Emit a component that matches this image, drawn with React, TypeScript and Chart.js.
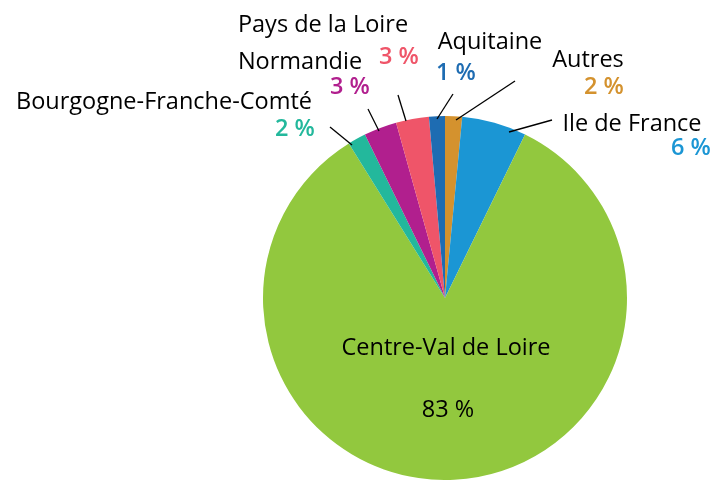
import React, { useEffect, useRef } from "react";
import { Chart, registerables } from "chart.js";

Chart.register(...registerables);

const regions = [
  "Autres",
  "Ile de France",
  "Centre-Val de Loire",
  "Bourgogne-Franche-Comté",
  "Normandie",
  "Pays de la Loire",
  "Aquitaine",
];
const shares = [1.5, 5.7, 83.3, 1.6, 2.9, 2.9, 1.4];
const shownPercents = [2, 6, 83, 2, 3, 3, 1];
const colors = ["#D4922E", "#1B96D4", "#92C83E", "#23B89C", "#B11F8E", "#EF5569", "#1E6CB2"];

// label layout, offsets relative to pie center
type Lay = { line?: [number, number, number, number]; name: [number, number]; pct: [number, number]; pctColor: string | null };
const layout: Lay[] = [
  { line: [11, -178, 70, -217], name: [143, -238], pct: [159, -211], pctColor: colors[0] },
  { line: [64, -166, 107, -178], name: [187, -174], pct: [246, -150], pctColor: colors[1] },
  { name: [1, 50], pct: [3, 112], pctColor: null },
  { line: [-93, -153, -115, -171], name: [-281, -196], pct: [-150, -169], pctColor: colors[3] },
  { line: [-66, -167, -77, -189], name: [-145, -236], pct: [-95, -211], pctColor: colors[4] },
  { line: [-39, -177, -47, -203], name: [-122, -273], pct: [-46, -241], pctColor: colors[5] },
  { line: [-8, -179, 8, -204], name: [45, -256], pct: [11, -225], pctColor: colors[6] },
];

const labelPlugin = {
  id: "pieLabels",
  afterDraw(chart: any) {
    const ctx = chart.ctx;
    const arc = chart.getDatasetMeta(0).data[0];
    if (!arc) return;
    const cx = arc.x;
    const cy = arc.y;
    ctx.save();
    ctx.textAlign = "center";
    ctx.textBaseline = "middle";
    layout.forEach((l, i) => {
      if (l.line) {
        ctx.beginPath();
        ctx.strokeStyle = "#000";
        ctx.lineWidth = 1.3;
        ctx.moveTo(cx + l.line[0], cy + l.line[1]);
        ctx.lineTo(cx + l.line[2], cy + l.line[3]);
        ctx.stroke();
      }
      ctx.fillStyle = "#000";
      ctx.font = "23.5px 'Open Sans'";
      ctx.fillText(regions[i], cx + l.name[0], cy + l.name[1]);
      if (l.pctColor) {
        ctx.fillStyle = l.pctColor;
        ctx.font = "600 23.5px 'Open Sans'";
      } else {
        ctx.fillStyle = "#000";
        ctx.font = "23.5px 'Open Sans'";
      }
      ctx.fillText(shownPercents[i] + " %", cx + l.pct[0], cy + l.pct[1]);
    });
    ctx.restore();
  },
};

export default function App() {
  const ref = useRef<HTMLCanvasElement>(null);
  useEffect(() => {
    document.body.style.margin = "0";
    const chart = new Chart(ref.current!, {
      type: "pie",
      data: {
        labels: regions,
        datasets: [
          {
            data: shares,
            backgroundColor: colors,
            borderWidth: 0,
          },
        ],
      },
      options: {
        animation: false,
        responsive: false,
        maintainAspectRatio: false,
        layout: { padding: { left: 263, right: 83, top: 116, bottom: 0 } },
        plugins: { legend: { display: false }, tooltip: { enabled: false } },
      },
      plugins: [labelPlugin],
    });
    return () => chart.destroy();
  }, []);
  return (
    <div style={{ width: 710, height: 480, background: "#fff" }}>
      <canvas ref={ref} width={710} height={480} />
    </div>
  );
}
